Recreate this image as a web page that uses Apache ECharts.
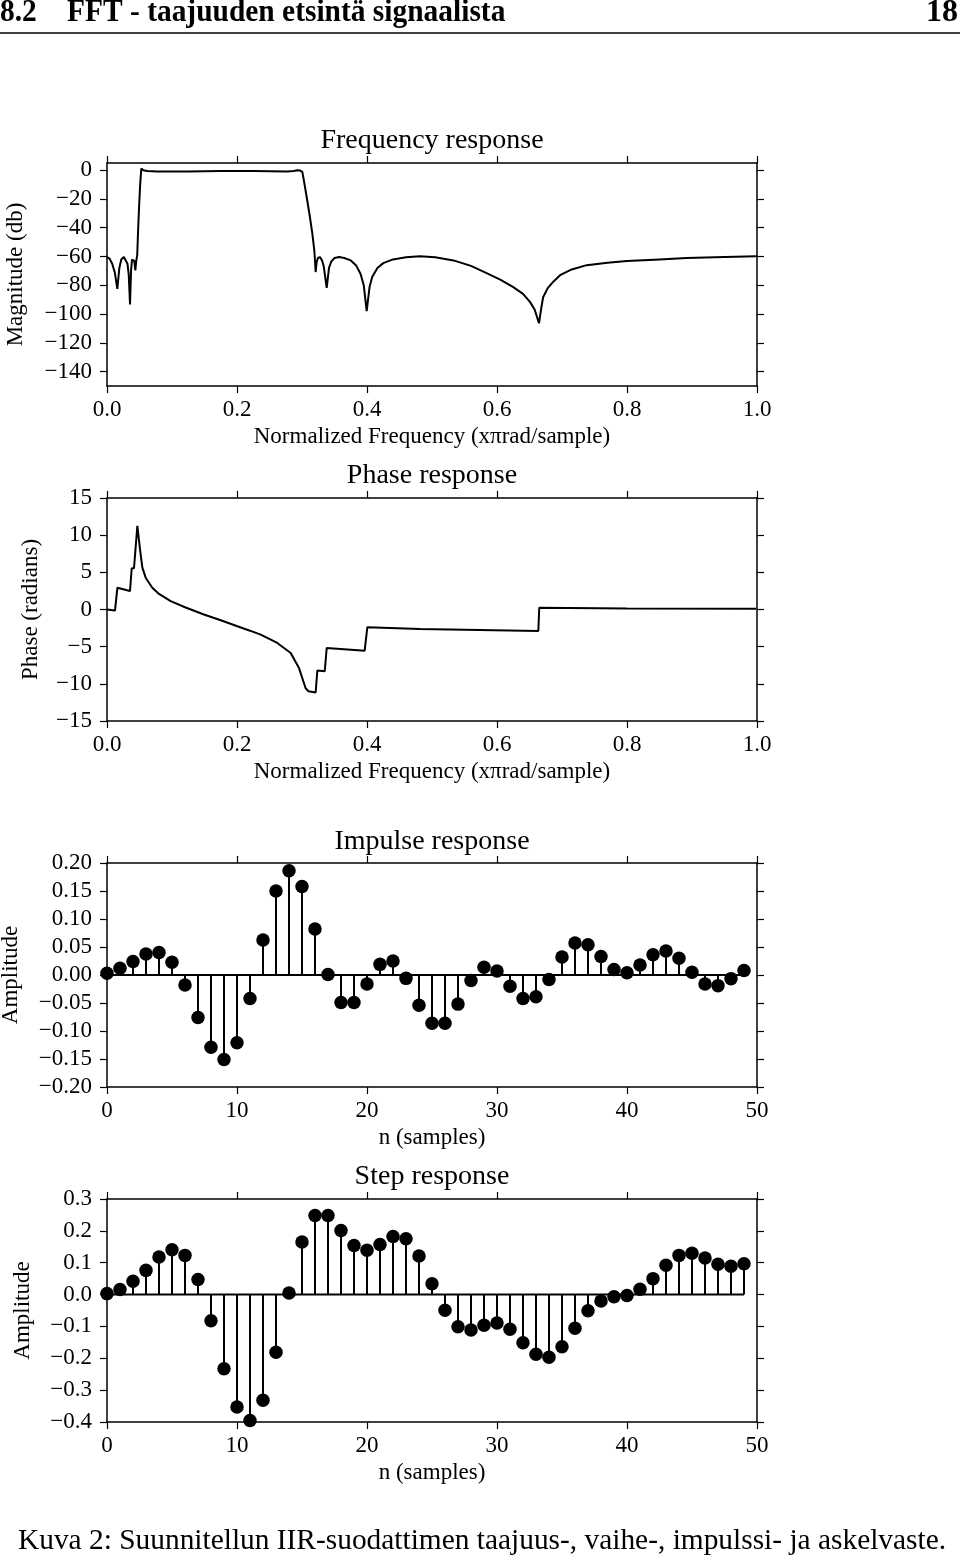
<!DOCTYPE html>
<html>
<head>
<meta charset="utf-8">
<title>IIR-suodatin</title>
<script src="https://cdn.jsdelivr.net/npm/echarts@6/dist/echarts.min.js"></script>
<style>
  html, body { margin: 0; padding: 0; background: #fff; }
  #chart { width: 960px; height: 1561px; }
</style>
</head>
<body>
<div id="chart"></div>
<script>
// magnitude response (dB) vs normalized frequency
const magFreq = [0.000, 0.004, 0.008, 0.012, 0.0159, 0.019, 0.022, 0.026, 0.029, 0.0315, 0.0335, 0.0354, 0.037, 0.0385,
  0.0405, 0.042, 0.0436, 0.045, 0.0465, 0.048, 0.0495, 0.051, 0.0528, 0.0545, 0.0559, 0.062, 0.077, 0.100, 0.124, 0.150,
  0.175, 0.200, 0.226, 0.250, 0.2774, 0.287, 0.2928, 0.2965, 0.3005, 0.304, 0.308, 0.312, 0.3159, 0.319, 0.321, 0.3225,
  0.3245, 0.3277, 0.331, 0.3335, 0.338, 0.3415, 0.345, 0.350, 0.357, 0.365, 0.375, 0.383, 0.390, 0.395, 0.3995, 0.404,
  0.408, 0.416, 0.425, 0.440, 0.460, 0.4815, 0.505, 0.533, 0.560, 0.584, 0.605, 0.625, 0.640, 0.651, 0.658, 0.6646,
  0.668, 0.671, 0.678, 0.687, 0.697, 0.715, 0.738, 0.770, 0.800, 0.850, 0.892, 0.950, 1.000]
const magDb = [-60.4, -61.5, -65, -71, -82.5, -68, -62, -60.4, -61.5, -65, -73, -93.4, -70, -62.2,
  -60.9, -63, -69.7, -63, -59, -40, -24, -10, 1.2, 0.6, 0, -0.5, -0.9, -0.9, -0.9, -0.7,
  -0.5, -0.5, -0.5, -0.7, -0.9, -0.5, 0, -0.2, -1.2, -10, -20.9, -32, -44.1, -56, -70.8, -64,
  -61, -60.4, -63, -67, -81.8, -68, -63.5, -61, -60.4, -61, -62.7, -66, -72, -80, -98, -81,
  -74.3, -68, -64.6, -62, -60.5, -59.8, -60.5, -62.7, -66.5, -71.5, -76, -81.3, -86, -91.7, -97, -106.4,
  -96, -88.3, -82, -77.3, -73, -69, -66, -64.3, -63.2, -62, -61, -60.3, -59.8]

// phase response (radians)
const phaseFreq = [0.000, 0.0123, 0.016, 0.0354, 0.038, 0.0415, 0.0467, 0.0508, 0.0544, 0.0595, 0.0697, 0.080, 0.098,
  0.120, 0.149, 0.175, 0.2005, 0.220, 0.2364, 0.262, 0.2826, 0.2954, 0.3056, 0.310, 0.321, 0.3236, 0.335, 0.338,
  0.3964, 0.4005, 0.4815, 0.6636, 0.665, 0.800, 0.9985]
const phaseRad = [0.0, -0.14, 2.93, 2.48, 5.54, 5.54, 11.26, 8.1, 5.63, 4.28, 2.93, 2.1, 1.13,
  0.3, -0.68, -1.45, -2.25, -2.85, -3.38, -4.5, -5.86, -7.88, -10.6, -11.0, -11.17, -8.2, -8.3, -5.18,
  -5.54, -2.39, -2.61, -2.88, 0.23, 0.15, 0.09]

// impulse and step response, n = 0..49
const impulseValues = [0.003, 0.012, 0.024, 0.0375, 0.040, 0.0226, -0.018, -0.076, -0.129, -0.151,
  -0.121, -0.042, 0.0625, 0.150, 0.186, 0.158, 0.082, 0.001, -0.049, -0.049,
  -0.016, 0.019, 0.025, -0.006, -0.054, -0.086, -0.086, -0.052, -0.010, 0.014,
  0.007, -0.020, -0.042, -0.039, -0.008, 0.032, 0.057, 0.054, 0.033, 0.010,
  0.004, 0.018, 0.036, 0.043, 0.030, 0.005, -0.016, -0.019, -0.0065, 0.008]
const stepValues = [0.003, 0.016, 0.042, 0.076, 0.118, 0.141, 0.123, 0.047, -0.082, -0.233,
  -0.353, -0.395, -0.332, -0.181, 0.005, 0.165, 0.248, 0.248, 0.201, 0.154,
  0.139, 0.157, 0.182, 0.175, 0.121, 0.034, -0.049, -0.101, -0.111, -0.096,
  -0.089, -0.109, -0.151, -0.1875, -0.197, -0.164, -0.106, -0.051, -0.020, -0.007,
  -0.003, 0.017, 0.050, 0.092, 0.123, 0.130, 0.115, 0.095, 0.089, 0.097]

// tick values
const freqTicks = [0, 0.2, 0.4, 0.6, 0.8, 1.0]
const magTicks = [0, -20, -40, -60, -80, -100, -120, -140]
const phaseTicks = [15, 10, 5, 0, -5, -10, -15]
const sampleTicks = [0, 10, 20, 30, 40, 50]
const impulseTicks = [0.20, 0.15, 0.10, 0.05, 0, -0.05, -0.10, -0.15, -0.20]
const stepTicks = [0.3, 0.2, 0.1, 0, -0.1, -0.2, -0.3, -0.4]

const FONT = "'Liberation Serif', 'DejaVu Serif', serif"
const INK = '#000'

function fmt(digits) {
  return v => Number(v).toFixed(digits).replace('-', '\u2212')
}

// fixed boxes; labels may run to the page edge without the grid shrinking
const grids = [
  { left: 107, top: 163, width: 650, height: 223, outerBoundsMode: 'none', containLabel: false },
  { left: 107, top: 498, width: 650, height: 223, outerBoundsMode: 'none', containLabel: false },
  { left: 107, top: 863, width: 650, height: 224, outerBoundsMode: 'none', containLabel: false },
  { left: 107, top: 1199, width: 650, height: 223, outerBoundsMode: 'none', containLabel: false }
]

const xAxes = []
const yAxes = []

// each panel gets a closed box: bottom/left axes with labels, top/right only ticks
function panel(i, x, y) {
  const line = { show: true, onZero: false, lineStyle: { color: INK, width: 1.5 } }
  xAxes.push({
    type: 'value', gridIndex: i, position: 'bottom', min: x.min, max: x.max,
    axisLine: line,
    axisTick: { show: true, length: 7, customValues: x.ticks, lineStyle: { color: INK, width: 1.2 } },
    axisLabel: { show: true, customValues: x.ticks, formatter: x.fmt, margin: 12,
      fontFamily: FONT, fontSize: 23, color: INK },
    splitLine: { show: false },
    name: x.name, nameLocation: 'middle', nameGap: 39,
    nameTextStyle: { fontFamily: FONT, fontSize: 23, color: INK }
  })
  xAxes.push({
    type: 'value', gridIndex: i, position: 'top', min: x.min, max: x.max,
    axisLine: line,
    axisTick: { show: true, length: 7, customValues: x.ticks, lineStyle: { color: INK, width: 1.2 } },
    axisLabel: { show: false },
    splitLine: { show: false }
  })
  yAxes.push({
    type: 'value', gridIndex: i, position: 'left', min: y.min, max: y.max,
    axisLine: line,
    axisTick: { show: true, length: 7, customValues: y.ticks, lineStyle: { color: INK, width: 1.2 } },
    axisLabel: { show: true, customValues: y.ticks, formatter: y.fmt, margin: 15,
      fontFamily: FONT, fontSize: 23, color: INK },
    splitLine: { show: false },
    name: y.name, nameLocation: 'middle', nameGap: y.nameGap,
    nameTextStyle: { fontFamily: FONT, fontSize: 23, color: INK }
  })
  yAxes.push({
    type: 'value', gridIndex: i, position: 'right', min: y.min, max: y.max,
    axisLine: line,
    axisTick: { show: true, length: 7, customValues: y.ticks, lineStyle: { color: INK, width: 1.2 } },
    axisLabel: { show: false },
    splitLine: { show: false }
  })
}

panel(0,
  { min: 0, max: 1, ticks: freqTicks, fmt: fmt(1), name: 'Normalized Frequency (x\u03c0rad/sample)' },
  { min: -150, max: 5, ticks: magTicks, fmt: fmt(0), name: 'Magnitude (db)', nameGap: 80 })
panel(1,
  { min: 0, max: 1, ticks: freqTicks, fmt: fmt(1), name: 'Normalized Frequency (x\u03c0rad/sample)' },
  { min: -15, max: 15, ticks: phaseTicks, fmt: fmt(0), name: 'Phase (radians)', nameGap: 65 })
panel(2,
  { min: 0, max: 50, ticks: sampleTicks, fmt: fmt(0), name: 'n (samples)' },
  { min: -0.2, max: 0.2, ticks: impulseTicks, fmt: fmt(2), name: 'Amplitude', nameGap: 85 })
panel(3,
  { min: 0, max: 50, ticks: sampleTicks, fmt: fmt(0), name: 'n (samples)' },
  { min: -0.4, max: 0.3, ticks: stepTicks, fmt: fmt(1), name: 'Amplitude', nameGap: 73 })

function pairs(xs, ys) {
  return xs.map((x, k) => [x, ys[k]])
}

function curve(i, xs, ys) {
  return {
    type: 'line', xAxisIndex: i * 2, yAxisIndex: i * 2,
    data: pairs(xs, ys), showSymbol: false, smooth: false, silent: true,
    lineStyle: { color: INK, width: 2 }
  }
}

// stem plot = vertical stems + baseline + round markers
function stems(i, values) {
  const n = values.map((v, k) => k)
  const pts = pairs(n, values)
  return [
    {
      type: 'custom', xAxisIndex: i * 2, yAxisIndex: i * 2, data: pts, silent: true, z: 2,
      renderItem: (params, api) => {
        const top = api.coord([api.value(0), api.value(1)])
        const base = api.coord([api.value(0), 0])
        return {
          type: 'line',
          shape: { x1: top[0], y1: top[1], x2: base[0], y2: base[1] },
          style: { stroke: INK, lineWidth: 2 }
        }
      }
    },
    {
      type: 'line', xAxisIndex: i * 2, yAxisIndex: i * 2,
      data: [[n[0], 0], [n[n.length - 1], 0]], showSymbol: false, silent: true,
      lineStyle: { color: INK, width: 2 }, z: 3
    },
    {
      type: 'scatter', xAxisIndex: i * 2, yAxisIndex: i * 2, data: pts,
      symbol: 'circle', symbolSize: 13.5, itemStyle: { color: INK, opacity: 1 }, z: 4, silent: true
    }
  ]
}

function panelTitle(text, top) {
  return {
    text: text, left: 427, top: top, textAlign: 'center',
    textStyle: { fontFamily: FONT, fontSize: 28, fontWeight: 'normal', color: INK }
  }
}

const chart = echarts.init(document.getElementById('chart'))
chart.setOption({
  backgroundColor: '#fff',
  animation: false,
  title: [
    panelTitle('Frequency response', 122),
    panelTitle('Phase response', 457),
    panelTitle('Impulse response', 823),
    panelTitle('Step response', 1158)
  ],
  grid: grids,
  xAxis: xAxes,
  yAxis: yAxes,
  series: [
    curve(0, magFreq, magDb),
    curve(1, phaseFreq, phaseRad),
    ...stems(2, impulseValues),
    ...stems(3, stepValues)
  ],
  graphic: [
    {
      type: 'text', x: 0, y: 13, scaleX: 0.92,
      style: { text: '8.2', fontFamily: FONT, fontSize: 32, fontWeight: 'bold', fill: INK, verticalAlign: 'middle' }
    },
    {
      type: 'text', x: 67, y: 13, scaleX: 0.92,
      style: { text: 'FFT - taajuuden etsintä signaalista', fontFamily: FONT, fontSize: 32, fontWeight: 'bold',
        fill: INK, verticalAlign: 'middle' }
    },
    {
      type: 'text', x: 958, y: 13,
      style: { text: '18', fontFamily: FONT, fontSize: 32, fontWeight: 'bold', fill: INK,
        align: 'right', verticalAlign: 'middle' }
    },
    {
      type: 'line', shape: { x1: 0, y1: 33, x2: 960, y2: 33 },
      style: { stroke: INK, lineWidth: 1.5 }
    },
    {
      type: 'text', x: 18, y: 1541,
      style: { text: 'Kuva 2: Suunnitellun IIR-suodattimen taajuus-, vaihe-, impulssi- ja askelvaste.',
        fontFamily: FONT, fontSize: 29.4, fill: INK, verticalAlign: 'middle' }
    }
  ]
})
</script>
</body>
</html>
